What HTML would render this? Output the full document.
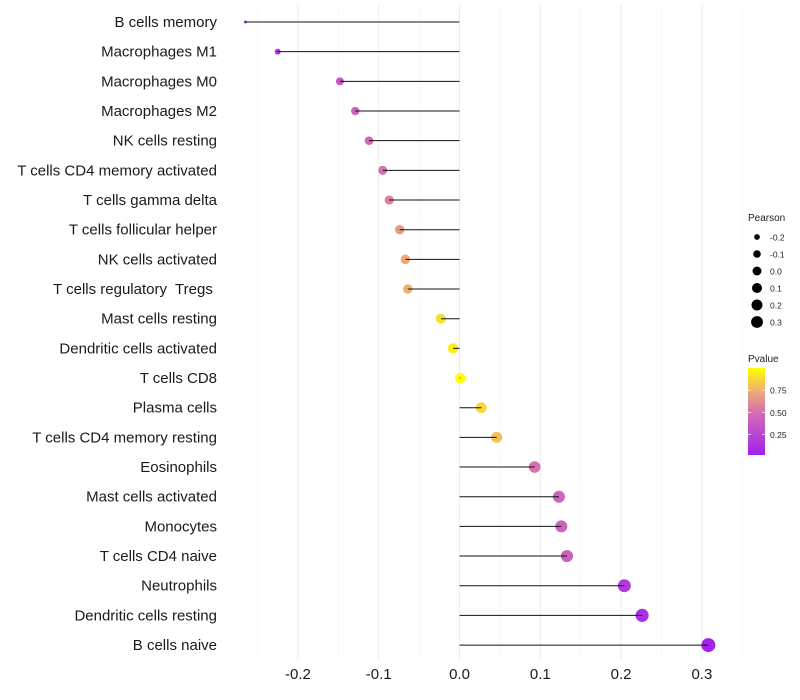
<!DOCTYPE html>
<html><head><meta charset="utf-8"><style>
html,body{margin:0;padding:0;background:#fff;}
svg{display:block;font-family:"Liberation Sans",sans-serif;}
</style></head><body>
<svg id="chart" width="800" height="700"></svg>
<script>
const categories=["B cells memory","Macrophages M1","Macrophages M0","Macrophages M2","NK cells resting","T cells CD4 memory activated","T cells gamma delta","T cells follicular helper","NK cells activated","T cells regulatory  Tregs ","Mast cells resting","Dendritic cells activated","T cells CD8","Plasma cells","T cells CD4 memory resting","Eosinophils","Mast cells activated","Monocytes","T cells CD4 naive","Neutrophils","Dendritic cells resting","B cells naive"];
const pearson=[-0.265,-0.225,-0.148,-0.129,-0.112,-0.095,-0.087,-0.074,-0.067,-0.064,-0.023,-0.008,0.001,0.027,0.046,0.093,0.123,0.126,0.133,0.204,0.226,0.308];
const pvalue=[0.04,0.1,0.35,0.4,0.45,0.5,0.56,0.66,0.72,0.75,0.9,0.95,1.0,0.88,0.8,0.5,0.42,0.42,0.4,0.15,0.1,0.02];
const xTicks=[-0.2,-0.1,0.0,0.1,0.2,0.3];
const xTickLabels=["-0.2","-0.1","0.0","0.1","0.2","0.3"];
const sizeLegend=[-0.2,-0.1,0.0,0.1,0.2,0.3];
const sizeLegendLabels=["-0.2","-0.1","0.0","0.1","0.2","0.3"];
const pTicks=[0.25,0.5,0.75];
const pTickLabels=["0.25","0.50","0.75"];

const NS="http://www.w3.org/2000/svg";
const svg=document.getElementById("chart");
function mk(t,a,p){const e=document.createElementNS(NS,t);for(const k in a)e.setAttribute(k,a[k]);(p||svg).appendChild(e);return e;}
const x=v=>459.5+v*808;
const y=i=>22+i*29.67;
const rad=v=>1.5+5.5*Math.sqrt(Math.max(0,(v+0.265)/0.573));
const stops=[[0,[160,32,240]],[0.5,[214,112,176]],[0.75,[240,176,112]],[1,[255,255,0]]];
function col(p){for(let i=1;i<stops.length;i++){if(p<=stops[i][0]){const a=stops[i-1],b=stops[i],t=(p-a[0])/(b[0]-a[0]);const c=a[1].map((v,k)=>Math.round(v+(b[1][k]-v)*t));return `rgb(${c})`;}}return "rgb(255,255,0)";}
for(let v=-0.25;v<=0.351;v+=0.05){
  const major=Math.abs(Math.round(v*100)%10)<1e-6;
  const g=mk("line",{x1:x(v),x2:x(v),y1:5,y2:660,stroke:major?"#ebebeb":"#f5f5f5","stroke-width":major?1:0.6});
  
  
}
xTicks.forEach((v,i)=>{
  const t=mk("text",{x:x(v),y:679,"text-anchor":"middle","font-size":15,fill:"#1a1a1a"});
  t.textContent=xTickLabels[i];
  
  
});
categories.forEach((c,i)=>{
  const t=mk("text",{x:217,y:y(i)+5,"text-anchor":"end","font-size":15,fill:"#1a1a1a","xml:space":"preserve"});
  t.style.whiteSpace="pre";
  t.textContent=c;
  
  
  const d=mk("circle",{cx:x(pearson[i]),cy:y(i),r:rad(pearson[i]),fill:col(pvalue[i])});
  
  
  const l=mk("line",{x1:x(0),x2:x(pearson[i]),y1:y(i),y2:y(i),stroke:"#111","stroke-width":1});
  
  
});
const lt=mk("text",{x:748,y:221,"font-size":10,fill:"#222"});lt.textContent="Pearson";


sizeLegend.forEach((v,i)=>{
  const cy=237+i*17;
  const c=mk("circle",{cx:757,cy:cy,r:rad(v)*0.85,fill:"#000"});
  
  
  const t=mk("text",{x:770,y:cy+3.5,"font-size":8.5,fill:"#222"});t.textContent=sizeLegendLabels[i];
  
  
});
const pt=mk("text",{x:748,y:362,"font-size":10,fill:"#222"});pt.textContent="Pvalue";


const defs=mk("defs",{});
const lg=mk("linearGradient",{id:"pg",x1:0,y1:1,x2:0,y2:0},defs);
stops.forEach(s=>mk("stop",{offset:s[0],"stop-color":`rgb(${s[1]})`},lg));
const pv=p=>455-(p-0.02)/0.98*87;
const bar=mk("rect",{x:748,y:368,width:17,height:87,fill:"url(#pg)"});


pTicks.forEach((p,i)=>{
  mk("line",{x1:748,x2:751,y1:pv(p),y2:pv(p),stroke:"#fff","stroke-width":0.7});
  mk("line",{x1:762,x2:765,y1:pv(p),y2:pv(p),stroke:"#fff","stroke-width":0.7});
  const t=mk("text",{x:770,y:pv(p)+3.5,"font-size":8.5,fill:"#222"});t.textContent=pTickLabels[i];
  
  
});
</script>
</body></html>
